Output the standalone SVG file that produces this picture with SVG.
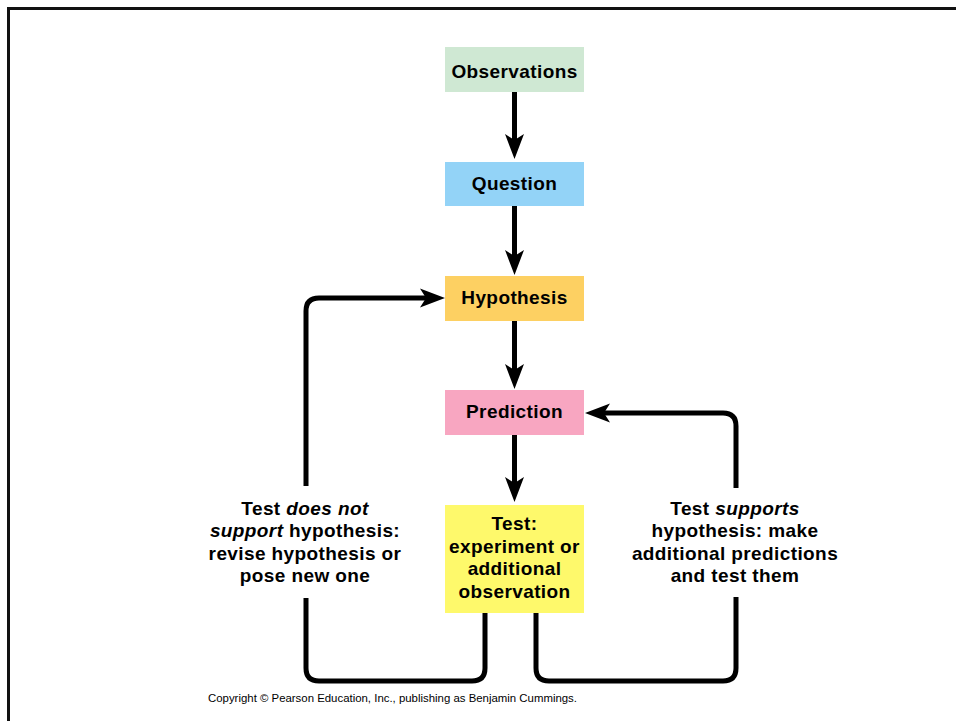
<svg xmlns="http://www.w3.org/2000/svg" width="956" height="721" viewBox="0 0 956 721">
<style>
  .lbl { font-family: "Liberation Sans", Arial, sans-serif; font-weight: bold; font-size: 19px; letter-spacing: 0.4px; fill: #000; text-anchor: middle; }
  .it { font-style: italic; }
  .conn { fill: none; stroke: #000; stroke-width: 5; }
  .copy { font-family: "Liberation Sans", Arial, sans-serif; font-size: 11px; fill: #000; }
</style>
<defs>
  <marker id="ah" markerUnits="userSpaceOnUse" markerWidth="40" markerHeight="30" refX="0" refY="0" orient="auto" overflow="visible" viewBox="-15 -15 40 30">
    <path d="M16,0 L-9,-9.5 L-3,0 L-9,9.5 Z" fill="#000"/>
  </marker>
</defs>
<rect x="0" y="0" width="956" height="721" fill="#fff"/>
<path d="M8.5,721 V8.5 H956" fill="none" stroke="#111" stroke-width="3"/>

<g id="connectors">
  <path class="conn" d="M514.5,92 V143" marker-end="url(#ah)"/>
  <path class="conn" d="M514.5,206 V259" marker-end="url(#ah)"/>
  <path class="conn" d="M514.5,321 V373" marker-end="url(#ah)"/>
  <path class="conn" d="M514.5,435 V486" marker-end="url(#ah)"/>
  <path class="conn" d="M306,486 V311 Q306,298 319,298 H429" marker-end="url(#ah)"/>
  <path class="conn" d="M736,488 V426 Q736,413 723,413 H601" marker-end="url(#ah)"/>
  <path class="conn" d="M485,613 V668 Q485,681 472,681 H319 Q306,681 306,668 V598"/>
  <path class="conn" d="M536,613 V668 Q536,681 549,681 H723 Q736,681 736,668 V597"/>
</g>

<g id="observations">
  <rect x="445" y="47" width="139" height="45" fill="#cfe8d3"/>
  <text class="lbl" x="514.5" y="78">Observations</text>
</g>
<g id="question">
  <rect x="445" y="162" width="139" height="44" fill="#93d3f7"/>
  <text class="lbl" x="514.5" y="190">Question</text>
</g>
<g id="hypothesis">
  <rect x="445" y="276" width="139" height="45" fill="#fdd062"/>
  <text class="lbl" x="514.5" y="304">Hypothesis</text>
</g>
<g id="prediction">
  <rect x="445" y="390" width="139" height="45" fill="#f8a6c1"/>
  <text class="lbl" x="514.5" y="418">Prediction</text>
</g>
<g id="test">
  <rect x="445" y="505" width="139" height="108" fill="#fef96b"/>
  <text class="lbl" x="514.5" y="530">Test:</text>
  <text class="lbl" x="514.5" y="553">experiment or</text>
  <text class="lbl" x="514.5" y="575">additional</text>
  <text class="lbl" x="514.5" y="598">observation</text>
</g>
<g id="not-support-label">
  <text class="lbl" x="305" y="515">Test <tspan class="it">does not</tspan></text>
  <text class="lbl" x="305" y="537"><tspan class="it">support</tspan> hypothesis:</text>
  <text class="lbl" x="305" y="560">revise hypothesis or</text>
  <text class="lbl" x="305" y="582">pose new one</text>
</g>
<g id="supports-label">
  <text class="lbl" x="735" y="515">Test <tspan class="it">supports</tspan></text>
  <text class="lbl" x="735" y="537">hypothesis: make</text>
  <text class="lbl" x="735" y="560">additional predictions</text>
  <text class="lbl" x="735" y="582">and test them</text>
</g>
<text class="copy" x="208" y="702" textLength="369" lengthAdjust="spacingAndGlyphs">Copyright © Pearson Education, Inc., publishing as Benjamin Cummings.</text>
</svg>
